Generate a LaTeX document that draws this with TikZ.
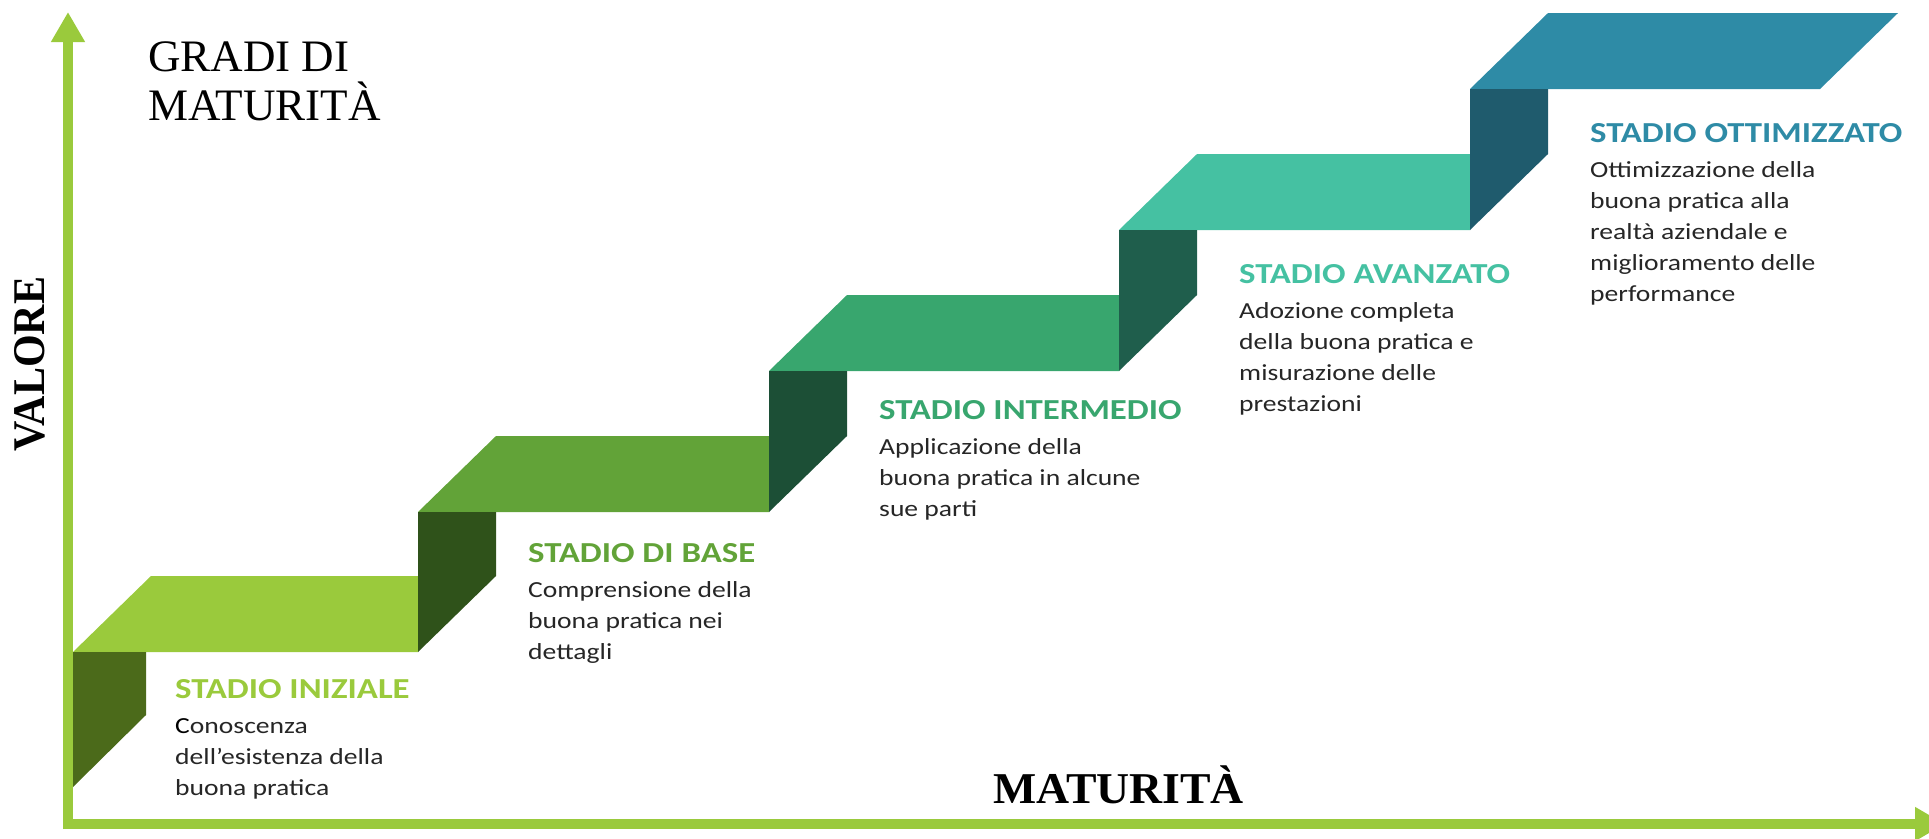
\documentclass[tikz,border=0pt]{standalone}
\usepackage{fontspec}
\usepackage{graphicx}
\usetikzlibrary{arrows.meta,calc}
\newfontfamily\stagefont[FakeStretch=1.2]{Carlito}
\newfontfamily\timesfont{Liberation Serif}
\definecolor{axisgreen}{HTML}{9ACA3C}
\definecolor{topA}{HTML}{9ACA3C}
\definecolor{sideA}{HTML}{4B6A1A}
\definecolor{topB}{HTML}{62A338}
\definecolor{sideB}{HTML}{2F521A}
\definecolor{topC}{HTML}{38A66E}
\definecolor{sideC}{HTML}{1C4F36}
\definecolor{topD}{HTML}{45C1A2}
\definecolor{sideD}{HTML}{1F5E4C}
\definecolor{topE}{HTML}{2E8BA6}
\definecolor{sideE}{HTML}{1F5B6D}
\definecolor{bodygray}{HTML}{262626}
\tikzset{
  axisline/.style={draw=axisgreen, line width=10pt, -{Triangle[width=32pt,length=30pt]}},
  stagetitle/.style={anchor=base west, inner sep=0pt, font=\stagefont\bfseries\fontsize{29}{31}\selectfont},
  stagebody/.style={anchor=north west, inner sep=0pt, align=left, text=bodygray, font=\stagefont\fontsize{23}{31}\selectfont},
  serifbig/.style={inner sep=0pt, font=\timesfont\fontsize{45}{49}\selectfont},
}
\begin{document}
\begin{tikzpicture}[x=1pt,y=-1pt]
\useasboundingbox (0,0) rectangle (1929,838);
\clip (0,0) rectangle (1929,838);
% step top faces
\fill[topA] (73,652) -- (151,576) -- (418,576) -- (418,652) -- cycle;
\fill[topB] (418,512) -- (496,436) -- (769,436) -- (769,512) -- cycle;
\fill[topC] (769,371) -- (847,295) -- (1119,295) -- (1119,371) -- cycle;
\fill[topD] (1119,230) -- (1197,154) -- (1470,154) -- (1470,230) -- cycle;
\fill[topE] (1470,89) -- (1548,13) -- (1898,13) -- (1820,89) -- cycle;
% risers
\fill[sideA] (73,652) -- (146,652) -- (146,715) -- (73,787) -- cycle;
\fill[sideB] (418,512) -- (496,512) -- (496,576) -- (418,652) -- cycle;
\fill[sideC] (769,371) -- (847,371) -- (847,436) -- (769,512) -- cycle;
\fill[sideD] (1119,230) -- (1197,230) -- (1197,295) -- (1119,371) -- cycle;
\fill[sideE] (1470,89) -- (1548,89) -- (1548,154) -- (1470,230) -- cycle;
% axes
\coordinate (xstart) at (63,824);
\coordinate (ytop) at (68,12);
\coordinate (xend) at (1945,824);
\coordinate (ybottom) at (68,829);
\draw[axisline] (ybottom) -- (ytop);
\draw[axisline] (xstart) -- (xend);
% axis labels
\node[serifbig, anchor=north west, align=left] (gradi) at (148,31) {\rule{0pt}{40pt}GRADI DI\\MATURITÀ};
\node[inner sep=0pt, rotate=90, font=\timesfont\bfseries\fontsize{42}{45}\selectfont] (valore) at (30,364) {\scalebox{1}[1.08]{VALORE}};
\node[inner sep=0pt, anchor=base west, font=\timesfont\bfseries\fontsize{44}{49}\selectfont] (maturita) at (993,803) {\scalebox{1.04}[1]{MATURITÀ}};
% stage texts
\node[stagetitle, text=topA] (t0) at (175,698) {STADIO INIZIALE};
\node[stagebody] (b0) at ([yshift=-15pt]t0.base west) {\rule{0pt}{20pt}\textcolor{black}{C}onoscenza\\dell’esistenza della\\buona pratica};
\node[stagetitle, text=topB] (t1) at (528,562) {STADIO DI BASE};
\node[stagebody] (b1) at ([yshift=-15pt]t1.base west) {\rule{0pt}{20pt}Comprensione della\\buona pratica nei\\dettagli};
\node[stagetitle, text=topC] (t2) at (879,419) {STADIO INTERMEDIO};
\node[stagebody] (b2) at ([yshift=-15pt]t2.base west) {\rule{0pt}{20pt}Applicazione della\\buona pratica in alcune\\sue parti};
\node[stagetitle, text=topD] (t3) at (1239,283) {STADIO AVANZATO};
\node[stagebody] (b3) at ([yshift=-15pt]t3.base west) {\rule{0pt}{20pt}Adozione completa\\della buona pratica e\\misurazione delle\\prestazioni};
\node[stagetitle, text=topE] (t4) at (1590,142) {STADIO OTTIMIZZATO};
\node[stagebody] (b4) at ([yshift=-15pt]t4.base west) {\rule{0pt}{20pt}Ottimizzazione della\\buona pratica alla\\realtà aziendale e\\miglioramento delle\\performance};
\end{tikzpicture}
\end{document}
